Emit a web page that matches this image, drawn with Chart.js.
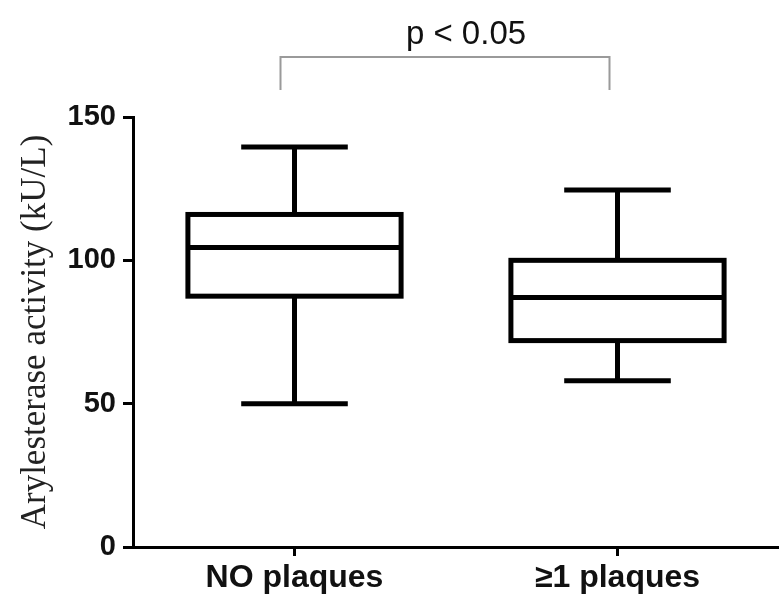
<!DOCTYPE html>
<html>
<head>
<meta charset="utf-8">
<script src="https://cdn.jsdelivr.net/npm/chart.js@4.4.0/dist/chart.umd.min.js"></script>
<style>
html,body{margin:0;padding:0;background:#fff;}
#wrap{width:779px;height:605px;position:relative;}
</style>
</head>
<body>
<div id="wrap"><canvas id="c" width="779" height="605"></canvas></div>
<script>
// ---- data ----
const categories = ["NO plaques", "\u22651 plaques"];
const whiskerLow  = [50, 58];
const quartile1   = [87.5, 72];
const medians     = [104.5, 87];
const quartile3   = [116, 100];
const whiskerHigh = [139.5, 124.5];
const yTicks = [0, 50, 100, 150];
const yTitle = "Arylesterase activity (kU/L)";
const pText = "p < 0.05";

const boxData = categories.map((c, i) => [quartile1[i], quartile3[i]]);

const bgPlugin = {
  id: 'bg',
  beforeDraw(chart) {
    const ctx = chart.ctx;
    ctx.save();
    ctx.fillStyle = '#fff';
    ctx.fillRect(0, 0, chart.width, chart.height);
    ctx.restore();
  }
};

const boxPlugin = {
  id: 'boxparts',
  afterDatasetsDraw(chart) {
    const ctx = chart.ctx;
    const ys = chart.scales.y;
    const meta = chart.getDatasetMeta(0);
    ctx.save();
    ctx.strokeStyle = '#000';
    ctx.lineWidth = 5;
    ctx.lineCap = 'butt';
    ctx.lineJoin = 'miter';
    meta.data.forEach((bar, i) => {
      const cx = bar.x;
      const half = bar.width / 2;
      const capHalf = bar.width / 4;
      const yMed = ys.getPixelForValue(medians[i]);
      const yQ1 = ys.getPixelForValue(quartile1[i]);
      const yQ3 = ys.getPixelForValue(quartile3[i]);
      const yLo = ys.getPixelForValue(whiskerLow[i]);
      const yHi = ys.getPixelForValue(whiskerHigh[i]);
      // box outline (centered on the quartile values)
      ctx.strokeRect(cx - half, yQ3, bar.width, yQ1 - yQ3);
      ctx.beginPath();
      // median
      ctx.moveTo(cx - half, yMed); ctx.lineTo(cx + half, yMed);
      // whiskers
      ctx.moveTo(cx, yQ3); ctx.lineTo(cx, yHi);
      ctx.moveTo(cx, yQ1); ctx.lineTo(cx, yLo);
      // caps
      ctx.moveTo(cx - capHalf, yHi); ctx.lineTo(cx + capHalf, yHi);
      ctx.moveTo(cx - capHalf, yLo); ctx.lineTo(cx + capHalf, yLo);
      ctx.stroke();
    });
    // significance bracket
    const x0 = chart.scales.x.getPixelForValue(0) - 14;
    const x1 = chart.scales.x.getPixelForValue(1) - 8;
    const yTop = 57, yBot = 90;
    ctx.strokeStyle = '#9a9a9a';
    ctx.lineWidth = 2;
    ctx.beginPath();
    ctx.moveTo(x0, yBot); ctx.lineTo(x0, yTop); ctx.lineTo(x1, yTop); ctx.lineTo(x1, yBot);
    ctx.stroke();
    ctx.fillStyle = '#111';
    ctx.font = '33px "Liberation Sans", Arial, sans-serif';
    ctx.textAlign = 'center';
    ctx.textBaseline = 'alphabetic';
    ctx.fillText(pText, (x0 + x1) / 2 + 21, 44);
    ctx.restore();
  }
};

new Chart(document.getElementById('c'), {
  type: 'bar',
  data: {
    labels: categories,
    datasets: [{
      data: boxData,
      backgroundColor: 'rgba(255,255,255,0)',
      borderWidth: 0,
      barPercentage: 0.66,
      categoryPercentage: 1
    }]
  },
  options: {
    responsive: false,
    animation: false,
    devicePixelRatio: 1,
    layout: { padding: { top: 117, right: 0, bottom: 0, left: 0 } },
    plugins: { legend: { display: false }, tooltip: { enabled: false } },
    scales: {
      x: {
        offset: true,
        afterFit(scale) { scale.height = 58; },
        grid: { display: true, offset: false, drawOnChartArea: false, drawTicks: true, tickLength: 9, tickWidth: 3, tickColor: '#000' },
        border: { display: true, color: '#000', width: 3 },
        ticks: {
          color: '#111',
          padding: 3,
          font: { family: '"Liberation Sans", Arial, sans-serif', size: 32, weight: 'bold' }
        }
      },
      y: {
        min: 0,
        max: 150,
        afterFit(scale) { scale.width = 133; },
        afterBuildTicks(scale) { scale.ticks = yTicks.map(v => ({ value: v })); },
        grid: { display: true, drawOnChartArea: false, drawTicks: true, tickLength: 10, tickWidth: 3, tickColor: '#000' },
        border: { display: true, color: '#000', width: 3 },
        ticks: {
          color: '#111',
          padding: 7,
          font: { family: '"Liberation Sans", Arial, sans-serif', size: 29, weight: 'bold' }
        },
        title: {
          display: true,
          text: yTitle,
          color: '#222',
          padding: { top: 15, bottom: 0 },
          font: { family: '"Liberation Serif", "Times New Roman", serif', size: 35, weight: 'normal', lineHeight: 1.2 }
        }
      }
    }
  },
  plugins: [bgPlugin, boxPlugin]
});
</script>
</body>
</html>
